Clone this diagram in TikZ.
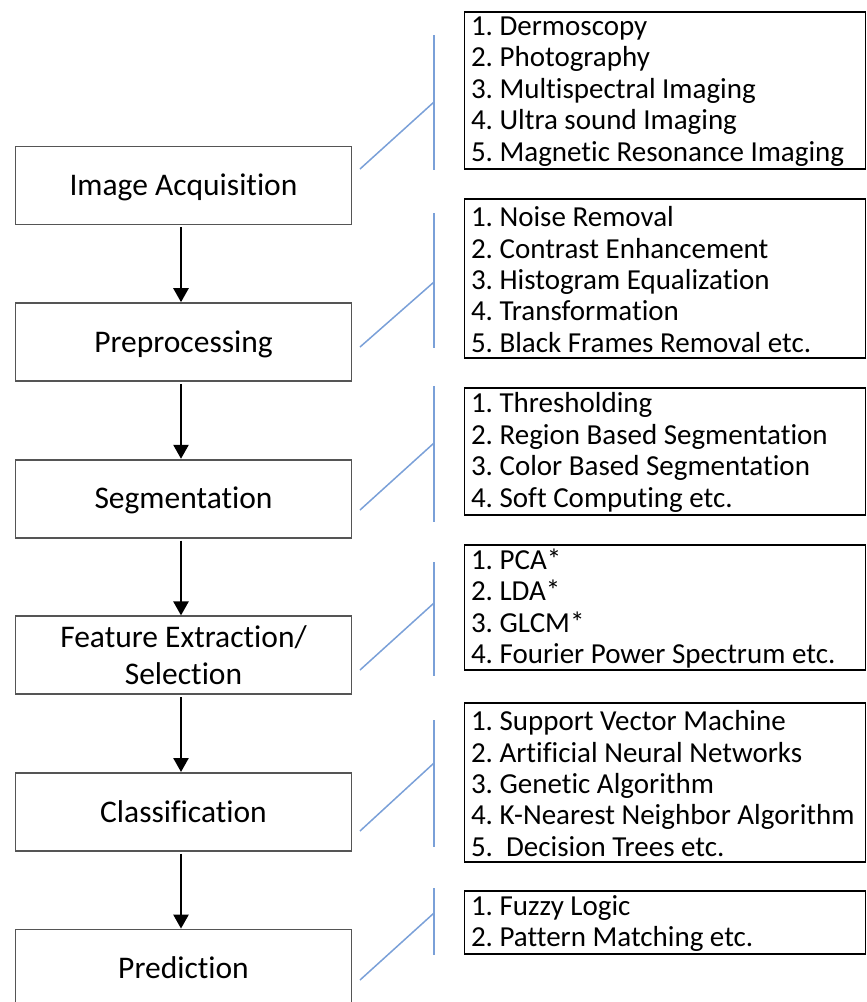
\documentclass[tikz,border=0pt]{standalone}
\usepackage{fontspec}
\setmainfont{Carlito}[Ligatures={NoCommon}]
\usetikzlibrary{arrows.meta,calc}
\definecolor{bracketblue}{RGB}{122,160,216}
\definecolor{boxgray}{RGB}{85,85,85}
\newcommand{\lfont}{\fontsize{31.5}{37}\selectfont}
\newcommand{\rfont}{\fontsize{29}{31.4}\selectfont}
\newcommand{\lstrut}{\rule[-0.2em]{0pt}{1.05em}}
\newcommand{\topstrut}{\rule{0pt}{1.0em}}
\frenchspacing
\begin{document}
\begin{tikzpicture}[x=1pt,y=-1pt,
  lshape/.style={draw=boxgray,line width=1.8pt,minimum width=336pt,minimum height=78pt,align=center,font=\lfont,inner sep=0pt},
  lbox/.style={lshape,execute at begin node=\lstrut, execute at end node=\lstrut},
  twoline/.style={lshape,execute at begin node=\topstrut},
  rbox/.style={draw=black,line width=1.4pt,minimum width=401pt,inner sep=0pt},
  rtext/.style={align=left,font=\rfont,inner sep=0pt,anchor=west},
  flowarrow/.style={line width=2.5pt,-{Triangle[width=15pt,length=14pt]}},
  blueline/.style={draw=bracketblue,line width=1.5pt}]
\useasboundingbox (0,0) rectangle (867,1002);

% left process boxes
\node[lbox] (l1) at (183.5,185.5) {Image Acquisition};
\node[lbox] (l2) at (183.5,342.1) {Preprocessing};
\node[lbox] (l3) at (183.5,498.7) {Segmentation};
\node[twoline] (l4) at (183.5,655.3) {Feature Extraction/\\Selection};
\node[lbox] (l5) at (183.5,811.9) {Classification};
\node[lbox] (l6) at (183.5,968.5) {Prediction};

\foreach \a/\b in {l1/l2,l2/l3,l3/l4,l4/l5,l5/l6}
  \draw[flowarrow] ($(\a.south)+(-2.5,2)$) -- ($(\b.north)+(-2.5,0)$);

% right method boxes
\node[rbox,minimum height=157pt] (r1) at (665,90.5) {};
\node[rbox,minimum height=159pt] (r2) at (665,278.5) {};
\node[rbox,minimum height=127pt] (r3) at (665,451.5) {};
\node[rbox,minimum height=125pt] (r4) at (665,607.5) {};
\node[rbox,minimum height=159pt] (r5) at (665,782.5) {};
\node[rbox,minimum height=63pt] (r6) at (665,922.5) {};

\node[rtext] (t1) at ($(r1.west)+(7,1)$) {1. Dermoscopy\\2. Photography\\3. Multispectral Imaging\\4. Ultra sound Imaging\\5. Magnetic Resonance Imaging};
\node[rtext] (t2) at ($(r2.west)+(7,1)$) {1. Noise Removal\\2. Contrast Enhancement\\3. Histogram Equalization\\4. Transformation\\5. Black Frames Removal etc.};
\node[rtext] (t3) at ($(r3.west)+(7,1)$) {1. Thresholding\\2. Region Based Segmentation\\3. Color Based Segmentation\\4. Soft Computing etc.};
\node[rtext] (t4) at ($(r4.west)+(7,1)$) {1. PCA*\\2. LDA*\\3. GLCM*\\4. Fourier Power Spectrum etc.};
\node[rtext] (t5) at ($(r5.west)+(7,1)$) {1. Support Vector Machine\\2. Artificial Neural Networks\\3. Genetic Algorithm\\4. K-Nearest Neighbor Algorithm\\5.\ \ Decision Trees etc.};
\node[rtext] (t6) at ($(r6.west)+(7,1)$) {1. Fuzzy Logic\\2. Pattern Matching etc.};

% blue brackets
\foreach \i/\vt/\vb/\ds/\de in {1/35/170/169/102, 2/213/348/347/282, 3/386/522/510/443, 4/562/676/670/603, 5/720/847/831/763, 6/888/955/980/913}{
  \coordinate (v\i a) at (434,\vt);
  \coordinate (v\i b) at (434,\vb);
  \coordinate (d\i a) at (360,\ds);
  \coordinate (d\i b) at (434,\de);
  \draw[blueline] (v\i a) -- (v\i b);
  \draw[blueline] (d\i a) -- (d\i b);
}
\end{tikzpicture}
\end{document}
